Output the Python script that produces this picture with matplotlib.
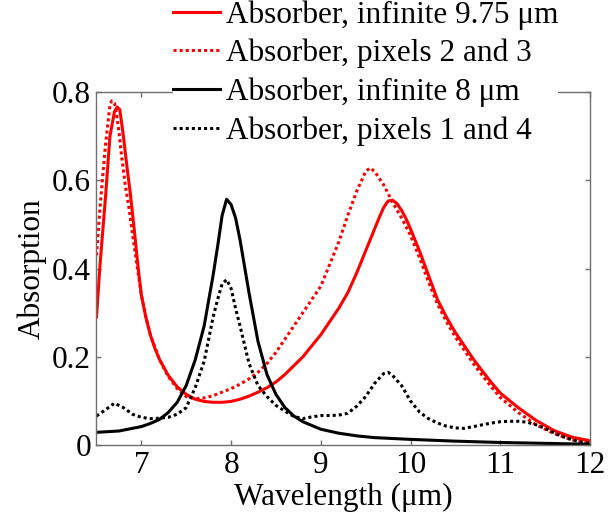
import matplotlib
matplotlib.use("Agg")
import matplotlib.pyplot as plt

plt.rcParams['font.family'] = ['Liberation Serif', 'DejaVu Serif']

# Red solid: Absorber, infinite 9.75 um
x_inf975 = [6.5, 6.54, 6.6, 6.65, 6.7, 6.73, 6.76, 6.8, 6.84, 6.88, 6.92, 6.96, 7.0, 7.05, 7.1, 7.15, 7.2,
            7.3, 7.4, 7.5, 7.6, 7.7, 7.8, 7.9, 8.0, 8.1, 8.2, 8.3, 8.4, 8.5, 8.6, 8.7, 8.8, 8.9, 9.0,
            9.1, 9.2, 9.3, 9.4, 9.5, 9.6, 9.65, 9.7, 9.75, 9.8, 9.85, 9.9, 9.95, 10.0, 10.1, 10.2, 10.3, 10.4, 10.5,
            10.6, 10.7, 10.8, 10.9, 11.0, 11.2, 11.4, 11.6, 11.8, 12.0]
y_inf975 = [0.29, 0.41, 0.56, 0.70, 0.755, 0.766, 0.76, 0.70, 0.63, 0.565, 0.49, 0.41, 0.34, 0.29, 0.25, 0.22, 0.195,
            0.158, 0.132, 0.115, 0.104, 0.099, 0.097, 0.097, 0.099, 0.104, 0.111, 0.12, 0.13, 0.143, 0.16, 0.18, 0.2, 0.225, 0.25,
            0.28, 0.31, 0.345, 0.39, 0.44, 0.49, 0.515, 0.538, 0.553, 0.555, 0.547, 0.532, 0.513, 0.49, 0.44, 0.385, 0.33, 0.29, 0.255,
            0.225, 0.195, 0.168, 0.142, 0.118, 0.085, 0.056, 0.033, 0.018, 0.01]

# Red dotted: Absorber, pixels 2 and 3
x_px23 = [6.5, 6.54, 6.6, 6.65, 6.67, 6.7, 6.72, 6.75, 6.78, 6.82, 6.86, 6.9, 6.95, 7.0, 7.05, 7.1, 7.2,
          7.3, 7.4, 7.5, 7.6, 7.7, 7.8, 7.9, 8.0, 8.1, 8.2, 8.3, 8.4, 8.5, 8.6, 8.7, 8.8, 8.9, 9.0,
          9.1, 9.2, 9.3, 9.4, 9.5, 9.55, 9.6, 9.7, 9.8, 9.9, 10.0, 10.1, 10.2, 10.3, 10.4, 10.5,
          10.6, 10.7, 10.8, 10.9, 11.0, 11.2, 11.4, 11.6, 11.8, 12.0]
y_px23 = [0.43, 0.54, 0.68, 0.77, 0.78, 0.775, 0.755, 0.71, 0.655, 0.59, 0.54, 0.48, 0.41, 0.34, 0.29, 0.25, 0.195,
          0.155, 0.128, 0.11, 0.105, 0.107, 0.112, 0.12, 0.128, 0.138, 0.15, 0.165, 0.185, 0.21, 0.24, 0.27, 0.3, 0.33, 0.36,
          0.41, 0.46, 0.52, 0.575, 0.62, 0.628, 0.62, 0.59, 0.55, 0.515, 0.475, 0.425, 0.37, 0.32, 0.28, 0.245,
          0.215, 0.185, 0.158, 0.132, 0.108, 0.074, 0.046, 0.026, 0.012, 0.005]

# Black solid: Absorber, infinite 8 um
x_inf8 = [6.5, 6.75, 7.0, 7.1, 7.2, 7.3, 7.4, 7.5, 7.6, 7.7, 7.8, 7.85, 7.9, 7.95, 8.0, 8.05, 8.1, 8.15,
          8.2, 8.3, 8.4, 8.5, 8.6, 8.7, 8.8, 9.0, 9.2, 9.4, 9.6, 9.8, 10.0, 10.5, 11.0, 11.5, 12.0]
y_inf8 = [0.029, 0.032, 0.042, 0.049, 0.058, 0.074, 0.097, 0.135, 0.193, 0.27, 0.385, 0.45, 0.52, 0.557, 0.545, 0.515, 0.465, 0.405,
          0.345, 0.235, 0.16, 0.115, 0.085, 0.066, 0.053, 0.036, 0.027, 0.021, 0.017, 0.015, 0.013, 0.009, 0.006, 0.004, 0.002]

# Black dotted: Absorber, pixels 1 and 4
x_px14 = [6.5, 6.6, 6.7, 6.8, 6.9, 7.0, 7.1, 7.2, 7.3, 7.4, 7.5, 7.6, 7.7, 7.8, 7.85, 7.9, 7.95, 8.0, 8.05,
          8.1, 8.2, 8.3, 8.4, 8.5, 8.6, 8.7, 8.8, 8.9, 9.0, 9.1, 9.2, 9.3, 9.4, 9.5, 9.6, 9.7, 9.75, 9.8,
          9.9, 10.0, 10.1, 10.2, 10.3, 10.4, 10.5, 10.6, 10.7, 10.8, 10.9, 11.0, 11.1, 11.2, 11.3, 11.4,
          11.5, 11.6, 11.7, 11.8, 11.9, 12.0]
y_px14 = [0.066, 0.08, 0.095, 0.085, 0.07, 0.063, 0.06, 0.061, 0.063, 0.07, 0.085, 0.13, 0.19, 0.29, 0.33, 0.365, 0.375, 0.355, 0.31,
          0.27, 0.185, 0.135, 0.11, 0.09, 0.077, 0.065, 0.06, 0.064, 0.067, 0.067, 0.068, 0.072, 0.088, 0.11, 0.14, 0.162, 0.165, 0.158,
          0.135, 0.1, 0.075, 0.06, 0.05, 0.043, 0.039, 0.038, 0.042, 0.046, 0.05, 0.053, 0.054, 0.054, 0.052, 0.046,
          0.038, 0.028, 0.019, 0.012, 0.007, 0.004]

labels = ['Absorber, infinite 9.75 \u03bcm', 'Absorber, pixels 2 and 3',
          'Absorber, infinite 8 \u03bcm', 'Absorber, pixels 1 and 4']
xticks = [7, 8, 9, 10, 11, 12]
yticks = [0, 0.2, 0.4, 0.6, 0.8]
yticklabels = ['0', '0.2', '0.4', '0.6', '0.8']

FS = 22.5

fig = plt.figure(figsize=(6.13, 5.14), dpi=100)
ax = fig.add_axes([0.1574, 0.134, 0.805, 0.687])

l1, = ax.plot(x_inf975, y_inf975, color='#ff0000', lw=2.2, ls='-')
l2, = ax.plot(x_px23, y_px23, color='#ff0000', lw=2.2, ls=(0, (1, 1)))
l3, = ax.plot(x_inf8, y_inf8, color='black', lw=2.2, ls='-')
l4, = ax.plot(x_px14, y_px14, color='black', lw=2.2, ls=(0, (1, 1)))

ax.set_xlim(6.5, 12)
ax.set_ylim(0, 0.8)
ax.set_xticks(xticks)
ax.set_xticklabels([str(t) for t in xticks])
ax.set_yticks(yticks)
ax.set_yticklabels(yticklabels)
ax.tick_params(direction='in', top=True, right=True, length=3.5, width=1,
               color='#707070', labelsize=FS, pad=4)
for s in ax.spines.values():
    s.set_color('#707070')
    s.set_linewidth(1.0)

ax.set_xlabel('Wavelength (\u03bcm)', fontsize=FS, labelpad=2)
ax.set_ylabel('Absorption', fontsize=FS, labelpad=4)

leg = fig.legend([l1, l2, l3, l4], labels, loc='upper left',
                 bbox_to_anchor=(0.282, 1.0), frameon=True, fontsize=FS,
                 handlelength=1.5, handletextpad=0.2, labelspacing=0.3,
                 borderpad=0.0, borderaxespad=0.0, fancybox=False)
leg.get_frame().set_facecolor('white')
leg.get_frame().set_edgecolor('none')
leg.get_frame().set_alpha(1.0)
leg.set_zorder(10)

fig.savefig('out.png', dpi=100)
